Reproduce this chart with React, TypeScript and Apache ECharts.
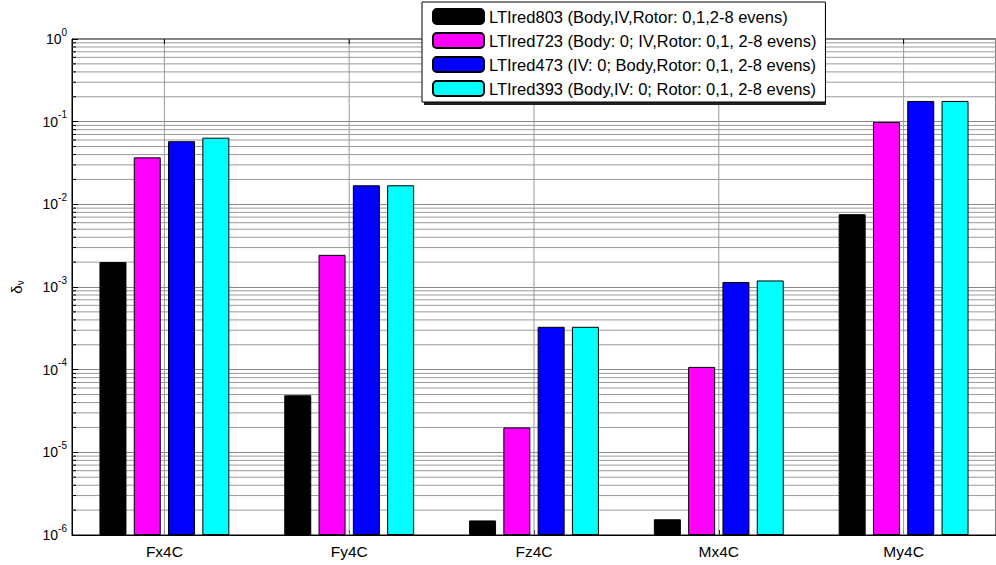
import React, { useEffect, useRef } from "react";
import * as echarts from "echarts";

const categories = ["Fx4C", "Fy4C", "Fz4C", "Mx4C", "My4C"];
const seriesNames = [
  "LTIred803 (Body,IV,Rotor: 0,1,2-8 evens)",
  "LTIred723 (Body: 0; IV,Rotor: 0,1, 2-8 evens)",
  "LTIred473 (IV: 0; Body,Rotor: 0,1, 2-8 evens)",
  "LTIred393 (Body,IV: 0; Rotor: 0,1, 2-8 evens)",
];
const seriesColors = ["#000000", "#ff00ff", "#0000ff", "#00ffff"];
const lti803 = [2.0e-3, 4.9e-5, 1.5e-6, 1.55e-6, 7.6e-3];
const lti723 = [3.7e-2, 2.45e-3, 2.0e-5, 1.08e-4, 0.099];
const lti473 = [5.8e-2, 1.7e-2, 3.3e-4, 1.15e-3, 0.178];
const lti393 = [6.4e-2, 1.7e-2, 3.3e-4, 1.2e-3, 0.178];
const seriesValues = [lti803, lti723, lti473, lti393];

const yMin = 1e-6;
const yMax = 1;
const decades = [-6, -5, -4, -3, -2, -1];
const minorMultipliers = [2, 3, 4, 5, 6, 7, 8, 9];

const FONT = "'Liberation Sans', Arial, sans-serif";
const GRID_COLOR = "#9a9a9a";

export default function App() {
  const ref = useRef<HTMLDivElement>(null);
  useEffect(() => {
    if (!ref.current) return;
    const chart = echarts.init(ref.current, undefined, { renderer: "svg" });

    // minor gridline values (2..9 x 10^d)
    const minorValues: number[][] = [];
    decades.forEach((d) => {
      minorMultipliers.forEach((m) => {
        minorValues.push([0, m * Math.pow(10, d)]);
      });
    });

    const bars = seriesNames.map((name, i) => ({
      name,
      type: "bar",
      data: seriesValues[i],
      barWidth: 27,
      barGap: "27%",
      z: 3,
      itemStyle: {
        color: seriesColors[i],
        borderColor: "#000",
        borderWidth: 1,
      },
    }));

    const option: any = {
      animation: false,
      textStyle: { fontFamily: FONT },
      grid: {
        left: 72,
        top: 39,
        width: 933,
        height: 496,
        show: true,
        borderColor: "#000",
        borderWidth: 1,
        backgroundColor: "#fff",
      },
      legend: {
        data: seriesNames,
        orient: "vertical",
        left: 422,
        top: 2,
        padding: [6, 9, 5, 10],
        itemWidth: 51,
        itemHeight: 15,
        itemGap: 7,
        backgroundColor: "#fff",
        borderColor: "#000",
        borderWidth: 1,
        textStyle: { fontSize: 16.5, color: "#000", fontFamily: FONT },
        z: 10,
      },
      graphic: [
        {
          type: "rect",
          z: 9,
          silent: true,
          shape: { x: 424, y: 4, width: 402, height: 101 },
          style: { fill: "#222" },
        },
        {
          type: "text",
          x: 16,
          y: 287,
          rotation: Math.PI / 2,
          style: {
            text: "{a|δ}{b|ν}",
            align: "center",
            verticalAlign: "middle",
            rich: {
              a: { fontSize: 15, fontFamily: FONT, fill: "#000" },
              b: {
                fontSize: 10,
                fontFamily: FONT,
                fill: "#000",
                padding: [9, 0, 0, 0],
              },
            },
          },
        },
      ],
      xAxis: {
        type: "category",
        data: categories,
        axisLine: { lineStyle: { color: "#000", width: 1 } },
        axisTick: {
          show: true,
          alignWithLabel: true,
          inside: true,
          length: 5,
          lineStyle: { color: "#000" },
        },
        axisLabel: { fontSize: 15.5, color: "#000", margin: 8, fontFamily: FONT },
        splitLine: { show: false },
      },
      yAxis: {
        type: "log",
        logBase: 10,
        min: yMin,
        max: yMax,
        startValue: yMin,
        axisLine: { show: true, lineStyle: { color: "#000", width: 1 } },
        axisTick: { show: true, inside: true, length: 6, lineStyle: { color: "#000" } },
        splitLine: { show: true, lineStyle: { color: "#888", width: 1 } },
        axisLabel: {
          margin: 5,
          color: "#000",
          formatter: (v: number) => {
            const e = Math.round(Math.log10(v));
            return "{b|10}{s|" + e + "}";
          },
          rich: {
            b: { fontSize: 14, fontFamily: FONT, color: "#000" },
            s: {
              fontSize: 10,
              fontFamily: FONT,
              color: "#000",
              padding: [0, 0, 14, 0],
            },
          },
        },
      },
      series: [
        {
          name: "minor-grid",
          type: "custom",
          silent: true,
          z: 1,
          data: minorValues,
          renderItem: (params: any, api: any) => {
            const y = api.coord([0, api.value(1)])[1];
            const cs = params.coordSys;
            return {
              type: "group",
              children: [
                {
                  type: "line",
                  shape: { x1: cs.x, y1: y, x2: cs.x + cs.width, y2: y },
                  style: { stroke: GRID_COLOR, lineWidth: 1 },
                },
                {
                  type: "line",
                  shape: { x1: cs.x, y1: y, x2: cs.x + 4, y2: y },
                  style: { stroke: "#000", lineWidth: 1 },
                },
              ],
            };
          },
        },
        {
          name: "category-grid",
          type: "custom",
          silent: true,
          z: 1,
          data: categories.map((c, i) => [i, yMax]),
          renderItem: (params: any, api: any) => {
            const x = api.coord([api.value(0), yMax])[0];
            const cs = params.coordSys;
            return {
              type: "group",
              children: [
                {
                  type: "line",
                  shape: { x1: x, y1: cs.y, x2: x, y2: cs.y + cs.height },
                  style: { stroke: GRID_COLOR, lineWidth: 1 },
                },
                {
                  type: "line",
                  shape: { x1: x, y1: cs.y, x2: x, y2: cs.y + 5 },
                  style: { stroke: "#000", lineWidth: 1 },
                },
              ],
            };
          },
        },
        ...bars,
      ],
    };
    chart.setOption(option);
    return () => chart.dispose();
  }, []);
  return (
    <div
      ref={ref}
      style={{ position: "fixed", left: 0, top: 0, width: 996, height: 565, background: "#fff" }}
    />
  );
}
